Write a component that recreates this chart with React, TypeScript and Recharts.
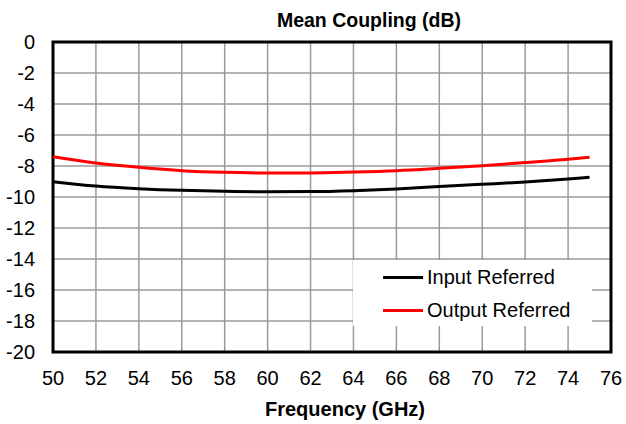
import React from "react";
import {
  LineChart,
  Line,
  XAxis,
  YAxis,
  CartesianGrid,
  Legend,
  ReferenceArea,
} from "recharts";

const frequencies = [50, 52, 54, 56, 58, 60, 62, 64, 66, 68, 70, 72, 74, 75];
const inputReferred = [
  -9.01, -9.29, -9.46, -9.57, -9.63, -9.66, -9.65, -9.59, -9.48, -9.33, -9.18,
  -9.03, -8.84, -8.73,
];
const outputReferred = [
  -7.4, -7.8, -8.08, -8.3, -8.41, -8.45, -8.45, -8.39, -8.3, -8.15, -7.98,
  -7.78, -7.57, -7.44,
];
const xTicks = [50, 52, 54, 56, 58, 60, 62, 64, 66, 68, 70, 72, 74, 76];
const yTicks = [0, -2, -4, -6, -8, -10, -12, -14, -16, -18, -20];

const chartData = frequencies.map((f, i) => ({
  freq: f,
  input: inputReferred[i],
  output: outputReferred[i],
}));

const FONT = '"Liberation Sans", Arial, Helvetica, sans-serif';

const legendItems = [
  { name: "Input Referred", color: "#000000" },
  { name: "Output Referred", color: "#ff0000" },
];

const CouplingLegend = () => (
  <div style={{ width: 239, height: 66, background: "#fff", position: "relative" }}>
    {legendItems.map((item, i) => (
      <div
        key={item.name}
        style={{
          position: "absolute",
          left: 30,
          top: 5 + i * 33,
          height: 24,
          display: "flex",
          alignItems: "center",
          fontFamily: FONT,
          fontSize: 20,
          color: "#000",
          whiteSpace: "nowrap",
        }}
      >
        <span
          style={{
            display: "inline-block",
            width: 40,
            height: 3,
            background: item.color,
            marginRight: 4,
          }}
        />
        {item.name}
      </div>
    ))}
  </div>
);

export default function App() {
  return (
    <div
      style={{
        position: "absolute",
        left: 0,
        top: 0,
        width: 626,
        height: 424,
        background: "#fff",
        fontFamily: FONT,
      }}
    >
      <LineChart
        width={626}
        height={424}
        data={chartData}
        margin={{ top: 42, right: 15, bottom: 0, left: 0 }}
      >
        <CartesianGrid stroke="#9a9a9a" strokeWidth={1.5} />
        <XAxis
          dataKey="freq"
          type="number"
          domain={[50, 76]}
          ticks={xTicks}
          height={72}
          tickSize={0}
          tickMargin={19}
          axisLine={false}
          tick={{ fill: "#000", fontSize: 20, fontFamily: FONT }}
          interval={0}
        />
        <YAxis
          type="number"
          domain={[-20, 0]}
          ticks={yTicks}
          width={53}
          tickSize={0}
          tickMargin={18}
          axisLine={false}
          tick={{ fill: "#000", fontSize: 20, fontFamily: FONT }}
          interval={0}
        />
        <Line
          type="monotone"
          dataKey="input"
          name="Input Referred"
          stroke="#000000"
          strokeWidth={3}
          dot={false}
          isAnimationActive={false}
        />
        <Line
          type="monotone"
          dataKey="output"
          name="Output Referred"
          stroke="#ff0000"
          strokeWidth={3}
          dot={false}
          isAnimationActive={false}
        />
        <ReferenceArea
          x1={50}
          x2={76}
          y1={-20}
          y2={0}
          fill="none"
          fillOpacity={0}
          stroke="#000"
          strokeWidth={3}
        />
        <Legend
          layout="horizontal"
          verticalAlign="middle"
          align="center"
          content={<CouplingLegend />}
          wrapperStyle={{ left: 353, top: 260, width: 239, height: 66 }}
        />
      </LineChart>
      <div
        style={{
          position: "absolute",
          left: 369,
          top: 10,
          transform: "translateX(-50%)",
          fontSize: 19.5,
          lineHeight: "20px",
          fontWeight: "bold",
          whiteSpace: "nowrap",
          color: "#000",
        }}
      >
        Mean Coupling (dB)
      </div>
      <div
        style={{
          position: "absolute",
          left: 345,
          top: 399,
          transform: "translateX(-50%)",
          fontSize: 20,
          lineHeight: "20px",
          fontWeight: "bold",
          whiteSpace: "nowrap",
          color: "#000",
        }}
      >
        Frequency (GHz)
      </div>
    </div>
  );
}
